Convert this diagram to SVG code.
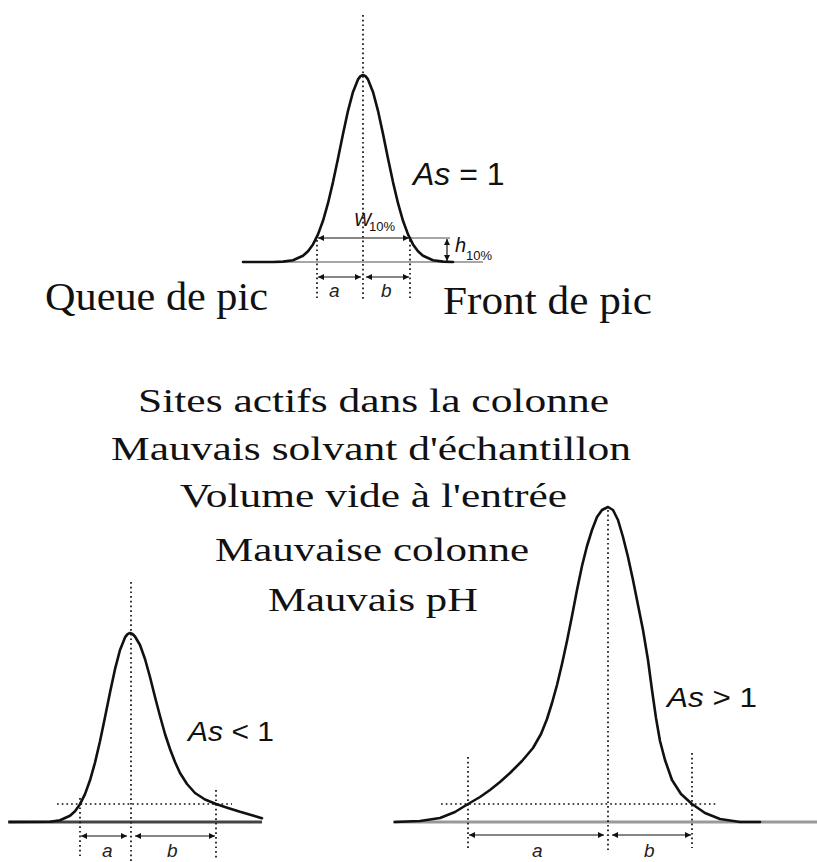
<svg xmlns="http://www.w3.org/2000/svg" width="817" height="862" viewBox="0 0 817 862">
<style>
.curve{fill:none;stroke:#111;stroke-width:2.6;stroke-linejoin:round;stroke-linecap:round}
.dot{fill:none;stroke:#111;stroke-width:1.7;stroke-dasharray:1.7 3}
.arr{fill:none;stroke:#111;stroke-width:1.2;marker-start:url(#ah);marker-end:url(#ah)}
.serif{font-family:"Liberation Serif","Times New Roman",serif;fill:#111}
.sans{font-family:"Liberation Sans",Arial,sans-serif;fill:#111}
.lab{font-family:"Liberation Sans",Arial,sans-serif;font-style:italic;font-size:19px;fill:#222}
</style>
<defs>
<marker id="ah" viewBox="0 0 6 6" refX="6" refY="3" markerWidth="6" markerHeight="6" markerUnits="userSpaceOnUse" orient="auto-start-reverse">
<path d="M0,0 L6,3 L0,6 z" fill="#111"/>
</marker>
</defs>
<rect width="817" height="862" fill="#fff"/>

<g id="peak-symmetric">
<line x1="243" y1="262" x2="483" y2="262" stroke="#888" stroke-width="1.6"/>
<line x1="409" y1="238" x2="450" y2="238" stroke="#888" stroke-width="1.6"/>
<line class="dot" x1="363" y1="15" x2="363" y2="300"/>
<line class="dot" x1="317" y1="240" x2="317" y2="300"/>
<line class="dot" x1="410" y1="240" x2="410" y2="300"/>
<polyline class="curve" points="243,262 273,262 283,261.6 293,260.2 303,255.8 308,251.3 313,244.4 318,234.4 323,220.8 328,203.2 333,182.1 338,158.4 343,133.9 348,110.8 353,91.9 358,79.4 360.5,76.1 363,75 365.5,76.1 368,79.4 373,91.9 378,110.8 383,133.9 388,158.4 393,182.1 398,203.2 403,220.8 408,234.4 413,244.4 418,251.3 423,255.8 433,260.2 443,261.6 453,262"/>
<line class="arr" x1="318" y1="238" x2="409" y2="238"/>
<line class="arr" x1="447" y1="239" x2="447" y2="261" stroke="#444"/>
<line class="arr" x1="318" y1="277" x2="361" y2="277"/>
<line class="arr" x1="366" y1="277" x2="409" y2="277"/>
<text x="354" y="226" class="sans" font-style="italic" font-size="18" fill="#555">W</text>
<text x="369" y="231" class="sans" font-size="13" fill="#888">10%</text>
<text x="455" y="252" class="sans" font-style="italic" font-size="20" fill="#777">h</text>
<text x="466" y="260" class="sans" font-size="13" fill="#888">10%</text>
<text x="329" y="297" class="lab">a</text>
<text x="381" y="297" class="lab">b</text>
<text x="413" y="185" class="sans" font-size="32"><tspan font-style="italic">As</tspan> = 1</text>
</g>

<g id="labels-top">
<text x="45" y="310" class="serif" font-size="40" textLength="223" lengthAdjust="spacingAndGlyphs">Queue de pic</text>
<text x="443" y="314" class="serif" font-size="41" textLength="209" lengthAdjust="spacingAndGlyphs">Front de pic</text>
</g>

<g id="causes">
<text x="138" y="412" class="serif" font-size="34" textLength="471" lengthAdjust="spacingAndGlyphs">Sites actifs dans la colonne</text>
<text x="111" y="460" class="serif" font-size="34" textLength="520" lengthAdjust="spacingAndGlyphs">Mauvais solvant d'échantillon</text>
<text x="180" y="507" class="serif" font-size="34" textLength="387" lengthAdjust="spacingAndGlyphs">Volume vide à l'entrée</text>
<text x="215" y="561" class="serif" font-size="34" textLength="314" lengthAdjust="spacingAndGlyphs">Mauvaise colonne</text>
<text x="268" y="611" class="serif" font-size="34" textLength="210" lengthAdjust="spacingAndGlyphs">Mauvais pH</text>
</g>

<g id="peak-tailing-left">
<line x1="8" y1="822" x2="262" y2="822" stroke="#444" stroke-width="3"/>
<line class="dot" x1="131" y1="582" x2="131" y2="862"/>
<line class="dot" x1="57" y1="804" x2="232" y2="804"/>
<line class="dot" x1="80" y1="798" x2="80" y2="858"/>
<line class="dot" x1="216" y1="790" x2="216" y2="860"/>
<polyline class="curve" points="10,822 50,821.8 60,820.2 70,815.7 75,811.2 80,804.2 85,794.1 90,780.3 95,762.6 100,741.3 105,717.3 110,692.5 115,669.2 120,650 125,637.4 127.5,634.1 130,633 132.5,634 135,636.5 140,645 145,659 150,677 155,697 160,716 165,734 170,749 175,762 180,773 187,784 195,793 205,799.5 216,804 228,808 240,811.8 252,815.2 262,818.2"/>
<line class="arr" x1="81" y1="836" x2="127" y2="836"/>
<line class="arr" x1="135" y1="836" x2="215" y2="836"/>
<text x="102" y="857" class="lab">a</text>
<text x="167" y="857" class="lab">b</text>
<text x="188" y="741" class="sans" font-size="28" textLength="86" lengthAdjust="spacingAndGlyphs"><tspan font-style="italic">As</tspan> &lt; 1</text>
</g>

<g id="peak-fronting-right">
<line x1="393" y1="822" x2="817" y2="822" stroke="#999" stroke-width="3"/>
<line class="dot" x1="608" y1="510" x2="608" y2="850"/>
<line class="dot" x1="441" y1="804" x2="717" y2="804"/>
<line class="dot" x1="468" y1="757" x2="468" y2="848"/>
<line class="dot" x1="692" y1="753" x2="692" y2="848"/>
<polyline class="curve" points="395,822 420,821 440,818 455,812 468,804 480,797 490,790 500,782 510,773 522,761 533,748 541,734 547,719 552,703 557,685 562,664 567,641 572,616 577,590 582,566 587,546 592,530 597,517 602,510 608,507 613,510 618,520 623,537 628,557 633,580 638,605 643,630 648,660 652,690 656,718 660,741 665,760 672,780 681,794 692,804 705,813 720,819 740,822 760,822"/>
<line class="arr" x1="469" y1="835" x2="604" y2="835"/>
<line class="arr" x1="612" y1="835" x2="691" y2="835"/>
<text x="532" y="857" class="lab">a</text>
<text x="644" y="857" class="lab">b</text>
<text x="667" y="707" class="sans" font-size="28" textLength="90" lengthAdjust="spacingAndGlyphs"><tspan font-style="italic">As</tspan> &gt; 1</text>
</g>
</svg>
